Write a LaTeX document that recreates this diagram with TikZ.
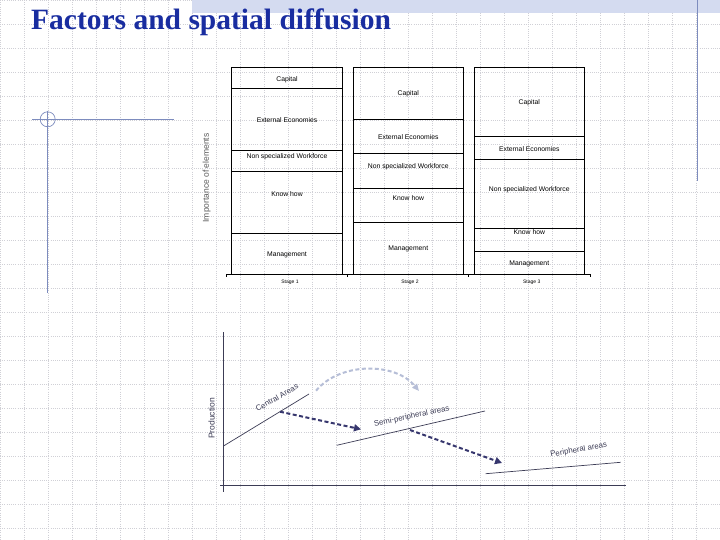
\documentclass[tikz,border=0pt]{standalone}
\usepackage{fontspec}
\setmainfont{Liberation Serif}
\newfontfamily\labfont{Liberation Sans}
\usetikzlibrary{arrows.meta, positioning}
\definecolor{titleblue}{RGB}{25,45,160}
\definecolor{deco}{RGB}{125,140,190}
\definecolor{gridgray}{RGB}{208,208,214}
\definecolor{band}{RGB}{212,219,240}
\definecolor{axisdark}{RGB}{60,60,85}
\definecolor{navy}{RGB}{55,55,110}
\definecolor{arcgray}{RGB}{182,190,215}

\begin{document}
\begin{tikzpicture}[
  x=1pt, y=-1pt,
  every node/.style={inner sep=0pt},
  fac/.style={font=\labfont\fontsize{6.8}{7}\selectfont},
  stagelab/.style={font=\labfont\fontsize{5}{5}\selectfont},
  axlab/.style={font=\labfont\fontsize{8.5}{9}\selectfont, text=black!65, rotate=90},
  arealab/.style={font=\labfont\fontsize{7.8}{8}\selectfont, text=axisdark},
  bar/.style={line width=0.8pt},
  gridline/.style={gridgray, line width=0.6pt, dash pattern=on 1pt off 1.2pt},
  prodline/.style={axisdark, line width=0.7pt},
  move/.style={navy, line width=2pt, dash pattern=on 4pt off 2.5pt,
               -{Triangle[length=7pt,width=7pt]}},
  jump/.style={arcgray, line width=2pt, dash pattern=on 4pt off 2.5pt,
               -{Triangle[length=7pt,width=6pt]}},
]
\useasboundingbox (0,0) rectangle (720,540);
\fill[white] (0,0) rectangle (720,540);

% background of the slide
\foreach \gx in {0,24,...,720}
  \draw[gridline] (\gx,0) -- (\gx,540);
\foreach \gy in {0,24,...,528}
  \draw[gridline] (0,\gy) -- (720,\gy);
\fill[band] (192,0) rectangle (720,12.7);
\draw[deco, line width=0.9pt] (697,0) -- (697,181);
\draw[deco, line width=0.9pt] (32,119.3) -- (174,119.3);
\draw[deco, line width=0.9pt] (47.7,110.7) -- (47.7,293);
\draw[deco, line width=0.7pt] (47.7,119.3) circle (7.5);

\node[anchor=base west, font=\bfseries\fontsize{29.5}{30}\selectfont,
      text=titleblue] (title) at (31,29.3) {Factors and spatial diffusion};

% stages: factor blocks
\foreach \i/\xc/\da/\db/\dc/\dd/\la/\lb/\lc/\ld/\le in {
    1/287/88.3/150.3/171.3/233.3/79.3/120/157/194/255,
    2/408.3/119.3/153.3/188.3/222.3/94/136.7/167/197.7/248.7,
    3/529.3/136.3/159.3/228.3/251.3/102.7/149/190/232.3/263.7}{
  \draw[bar] (\xc-55.4,274) -- (\xc-55.4,67.3) -- (\xc+55.4,67.3) -- (\xc+55.4,274);
  \foreach \d in {\da,\db,\dc,\dd}
    \draw[bar] (\xc-55.4,\d) -- (\xc+55.4,\d);
  \node[fac] (cap\i)  at (\xc,\la) {Capital};
  \node[fac] (ext\i)  at (\xc,\lb) {External Economies};
  \node[fac] (work\i) at (\xc,\lc) {Non specialized Workforce};
  \node[fac] (know\i) at (\xc,\ld) {Know how};
  \node[fac] (man\i)  at (\xc,\le) {Management};
}
\draw[bar] (226,274) -- (590,274);
\foreach \tx in {226,347.3,468.7,590}
  \draw[line width=0.6pt] (\tx,274) -- (\tx,277);
\node[stagelab] (st1) at (290,282.7)   {Stage 1};
\node[stagelab] (st2) at (410,282.7)   {Stage 2};
\node[stagelab] (st3) at (531.7,282.7) {Stage 3};
\node[axlab] (imp) at (206.7,178) {Importance of elements};

% production by area
\draw[axisdark, line width=0.9pt] (223.3,332.3) -- (223.3,491.7);
\draw[axisdark, line width=0.9pt] (220,485) -- (626,485);
\node[axlab, text=axisdark] (prod) at (211.7,418.5) {Production};

\coordinate (c0) at (224,445.7);   \coordinate (c1) at (309,394);
\coordinate (s0) at (336.7,445.3); \coordinate (s1) at (485,411);
\coordinate (p0) at (485.7,473.7); \coordinate (p1) at (620.7,462.3);
\draw[prodline] (c0) -- (c1);
\draw[prodline] (s0) -- (s1);
\draw[prodline] (p0) -- (p1);

\node[arealab, rotate=30] (central) at (277,397.5) {Central Areas};
\node[arealab, rotate=12] (semi) at (411.7,416.5) {Semi-peripheral areas};
\node[arealab, rotate=10] (peri) at (578.7,450) {Peripheral areas};

\coordinate (ma) at (280,411.7);  \coordinate (mb) at (361,429.3);
\coordinate (mc) at (410,430);    \coordinate (md) at (502,463);
\draw[move] (ma) -- (mb);
\draw[move] (mc) -- (md);
\coordinate (ja) at (316,390.7);  \coordinate (jb) at (419,391);
\draw[jump] (ja) .. controls (340,362) and (395,362) .. (jb);
\end{tikzpicture}
\end{document}
